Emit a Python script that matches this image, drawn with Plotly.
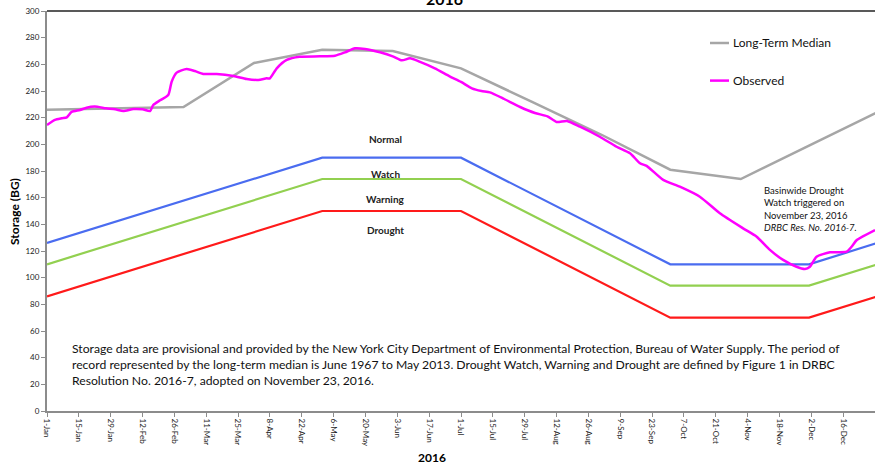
import pandas as pd
import plotly.graph_objects as go

# ---------------- data ----------------
base = pd.Timestamp("2016-01-01")

median_day = [0, 31, 60, 91, 121, 152, 182, 213, 244, 274, 305, 335, 365]
median_val = [226, 227, 228, 261, 271, 270, 257, 232, 207, 181, 174, 199, 224]

obs_day = [0, 3.5, 6.5, 8.7, 10.8, 14.5, 17.4, 21, 26, 30, 33.5, 38, 42, 45.3, 46.7,
           49.7, 53.3, 54.8, 57, 61.4, 65, 68.7, 74.6, 82, 87.8, 92.9, 96.6, 98, 101,
           105.4, 111, 120, 126.6, 131, 135.4, 139.8, 146.4, 152, 156, 159.6, 164,
           170.5, 177, 182, 186.8, 191, 194.7, 201, 208, 214.5, 220, 224, 228.6,
           234.3, 243, 250.4, 256.3, 260.7, 263.6, 270.9, 278.2, 287, 295.8, 306,
           312, 317.8, 323.6, 329.5, 333.2, 335.4, 338.3, 344.2, 351.5, 353.7, 356, 364]
obs_val = [214.5, 218.3, 219.5, 220.2, 224.3, 225.8, 227.5, 228.3, 227, 226.3, 225,
           226.5, 226.3, 225, 229.5, 233, 237, 247, 253.8, 256.5, 255, 252.8, 252.8,
           251.3, 249, 248.3, 249.5, 249.5, 257, 263.3, 265.7, 266, 266.5, 269, 272,
           271.5, 269, 266, 263, 264.5, 261.8, 257, 251, 246.8, 242, 240, 239, 234,
           228, 223.5, 221, 216.8, 217.5, 213.2, 205.7, 198.2, 193.3, 185.8, 183.8,
           173.3, 168.2, 160.7, 148.3, 137, 130.7, 120.8, 113.3, 108.2, 106.5, 108.2,
           115.7, 119, 119.5, 123.2, 128.2, 135.7]

level_day = [0, 121, 182, 274, 335, 365]
watch_val = [126, 190, 190, 110, 110, 126]
warning_val = [110, 174, 174, 94, 94, 110]
drought_val = [86, 150, 150, 70, 70, 86]

zone_labels = ["Normal", "Watch", "Warning", "Drought"]
zone_label_y = [204, 178, 159, 136]
zone_label_day = 149

tick_days = list(range(0, 365, 14))


def to_dates(days):
    return [base + pd.Timedelta(days=d) for d in days]


tick_dates = to_dates(tick_days)
tick_text = [f"{d.day}-{d.strftime('%b')}" for d in tick_dates]
tick_text[-1] = f'<span style="color:#F0A030">{tick_text[-1]}</span>'

FONT = "Lato, 'Open Sans', sans-serif"

fig = go.Figure()
fig.add_trace(go.Scatter(x=to_dates(level_day), y=watch_val, mode="lines",
                         line=dict(color="#4A6CF0", width=2.2), showlegend=False))
fig.add_trace(go.Scatter(x=to_dates(level_day), y=warning_val, mode="lines",
                         line=dict(color="#92D050", width=2.2), showlegend=False))
fig.add_trace(go.Scatter(x=to_dates(level_day), y=drought_val, mode="lines",
                         line=dict(color="#FF1A1A", width=2.2), showlegend=False))
fig.add_trace(go.Scatter(x=to_dates(median_day), y=median_val, mode="lines",
                         line=dict(color="#A6A6A6", width=2.5), showlegend=False))
fig.add_trace(go.Scatter(x=to_dates(obs_day), y=obs_val, mode="lines",
                         line=dict(color="#FF00FF", width=2.5, shape="spline", smoothing=0.6),
                         showlegend=False))

# zone labels
for lab, yv in zip(zone_labels, zone_label_y):
    fig.add_annotation(x=base + pd.Timedelta(days=zone_label_day), y=yv, text=f"<b>{lab}</b>",
                       showarrow=False, font=dict(family=FONT, size=10, color="#222"))

# legend (manual)
for yp, col, name in [(0.92, "#A6A6A6", "Long-Term Median"), (0.826, "#FF00FF", "Observed")]:
    fig.add_shape(type="line", xref="paper", yref="paper", x0=0.8007, x1=0.8237, y0=yp, y1=yp,
                  line=dict(color=col, width=2.5))
    fig.add_annotation(xref="paper", yref="paper", x=0.8255, y=yp, xanchor="left", yanchor="middle",
                       text=name, showarrow=False, font=dict(family=FONT, size=12, color="#111"))

# note
fig.add_annotation(xref="paper", yref="paper", x=0.0275, y=0.116, xanchor="left", yanchor="middle",
                   align="left", showarrow=False, font=dict(family=FONT, size=12.2, color="#111"),
                   text=("Storage data are provisional and provided by the New York City Department of "
                         "Environmental Protection, Bureau of Water Supply. The period of<br>"
                         "record represented by the long-term median is June 1967 to May 2013. Drought "
                         "Watch, Warning and Drought are defined by Figure 1 in DRBC<br>"
                         "Resolution No. 2016-7, adopted on November 23, 2016."))

fig.add_annotation(xref="paper", yref="paper", x=0.8635, y=0.505, xanchor="left", yanchor="middle",
                   align="left", showarrow=False, font=dict(family=FONT, size=9.5, color="#111"),
                   text=("Basinwide Drought<br>Watch triggered on<br>November 23, 2016<br>"
                         "<i>DRBC Res. No. 2016-7.</i>"))

# titles
fig.add_annotation(xref="paper", yref="paper", x=0.48, y=1, xanchor="center", yanchor="bottom", yshift=1,
                   text="<b>2016</b>", showarrow=False, font=dict(family=FONT, size=16, color="#000"))
fig.add_annotation(xref="paper", yref="paper", x=0.465, y=-0.117, xanchor="center", yanchor="middle",
                   text="<b>2016</b>", showarrow=False, font=dict(family=FONT, size=12, color="#000"))
fig.add_annotation(xref="paper", yref="paper", x=-0.0399, y=0.5, xanchor="center", yanchor="middle",
                   textangle=-90, text="<b>Storage (BG)</b>", showarrow=False,
                   font=dict(family=FONT, size=12, color="#000"))

# top border
fig.add_shape(type="line", xref="paper", yref="paper", x0=0, x1=1, y0=1, y1=1,
              line=dict(color="#222", width=1.5))

fig.update_layout(
    width=875, height=466,
    margin=dict(l=47, r=0, t=11, b=55),
    paper_bgcolor="white", plot_bgcolor="white",
    xaxis=dict(type="date", range=[base, base + pd.Timedelta(days=364)],
               tickvals=tick_dates, ticktext=tick_text, tickangle=90,
               tickfont=dict(family=FONT, size=8, color="#222"),
               showgrid=False, zeroline=False, showline=True, linecolor="#8C8C8C", linewidth=2,
               ticks="outside", ticklen=4, tickcolor="#8C8C8C"),
    yaxis=dict(range=[0, 300], dtick=20, tickfont=dict(family=FONT, size=8, color="#222"),
               showgrid=False, zeroline=False, showline=True, linecolor="#8C8C8C", linewidth=2,
               ticks="outside", ticklen=4, tickcolor="#8C8C8C"),
)

fig.write_html("out.html", config={"displayModeBar": False},
               post_script="document.body.style.margin='0';document.body.style.overflow='hidden';")
